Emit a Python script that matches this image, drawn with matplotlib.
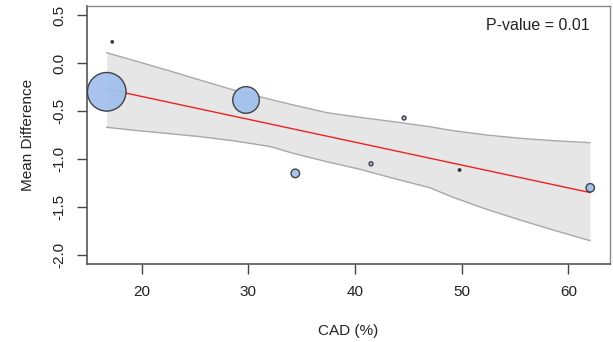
import matplotlib
matplotlib.use("Agg")
import matplotlib.pyplot as plt
import numpy as np

plt.rcParams['font.family'] = ['Liberation Sans', 'DejaVu Sans']

# Study data (CAD %, mean difference, relative weight = bubble radius)
cad = [16.72, 17.24, 29.78, 34.4, 41.5, 44.6, 49.8, 62.05]
mean_diff = [-0.30, 0.22, -0.385, -1.15, -1.05, -0.573, -1.115, -1.30]
weight = [19.3, 1.2, 13.3, 4.3, 2.0, 2.0, 1.3, 4.2]

# Meta-regression fit line and confidence band
fit_x = [16.7, 62.05]
fit_y = [-0.27, -1.35]
ci_x = [16.72, 19.21, 22.34, 25.46, 28.59, 32.03, 34.21, 37.34,
        40.46, 43.58, 47.02, 49.2, 52.33, 55.45, 58.58, 62.02]
ci_upper = [0.107, 0.028, -0.073, -0.177, -0.281, -0.378, -0.4375, -0.517,
            -0.566, -0.611, -0.664, -0.705, -0.75, -0.784, -0.809, -0.830]
ci_lower = [-0.670, -0.700, -0.733, -0.767, -0.810, -0.870, -0.941, -1.028,
            -1.107, -1.201, -1.300, -1.400, -1.524, -1.635, -1.740, -1.851]

x_ticks = [20, 30, 40, 50, 60]
y_ticks = [-2.0, -1.5, -1.0, -0.5, 0.0, 0.5]

fig = plt.figure(figsize=(6.13, 3.42), dpi=100)
ax = fig.add_axes([0.1419, 0.2272, 0.8532, 0.7553])

ax.fill_between(ci_x, ci_lower, ci_upper, color='#e6e6e6', lw=0, zorder=1)
ax.plot(ci_x, ci_upper, color='#a8a8a8', lw=1.0, zorder=2)
ax.plot(ci_x, ci_lower, color='#a8a8a8', lw=1.0, zorder=2)
ax.plot(fit_x, fit_y, color='#ee2222', lw=1.0, zorder=3)

w = np.array(weight)
sizes = (2 * w * 0.72) ** 2
colors = ['#a2c0ee' if r > 1.5 else '#222222' for r in weight]
ax.scatter(cad, mean_diff, s=sizes, c=colors, edgecolors='#3a3a3a',
           linewidths=1.0, alpha=0.95, zorder=4)

ax.set_xlim(14.87, 63.9)
ax.set_ylim(-2.097, 0.594)
ax.set_xticks(x_ticks)
ax.set_yticks(y_ticks)
ax.set_xticklabels([str(t) for t in x_ticks])
ax.set_yticklabels(['%.1f' % t for t in y_ticks], rotation=90, va='center')

for s in ['top', 'right']:
    ax.spines[s].set_color('#888888')
    ax.spines[s].set_linewidth(1.0)
for s in ['left', 'bottom']:
    ax.spines[s].set_color('#555555')
    ax.spines[s].set_linewidth(1.2)

ax.tick_params(axis='both', direction='out', length=7, width=1.0,
               color='#444444', labelsize=11, labelcolor='#222222', pad=8)

ax.set_xlabel('CAD (%)', fontsize=11, color='#222222', labelpad=18)
ax.set_ylabel('Mean Difference', fontsize=11, color='#222222', labelpad=12)

ax.text(0.962, 0.925, 'P-value = 0.01', transform=ax.transAxes,
        ha='right', va='center', fontsize=11.5, color='#222222')

fig.savefig('out.png', dpi=100)
